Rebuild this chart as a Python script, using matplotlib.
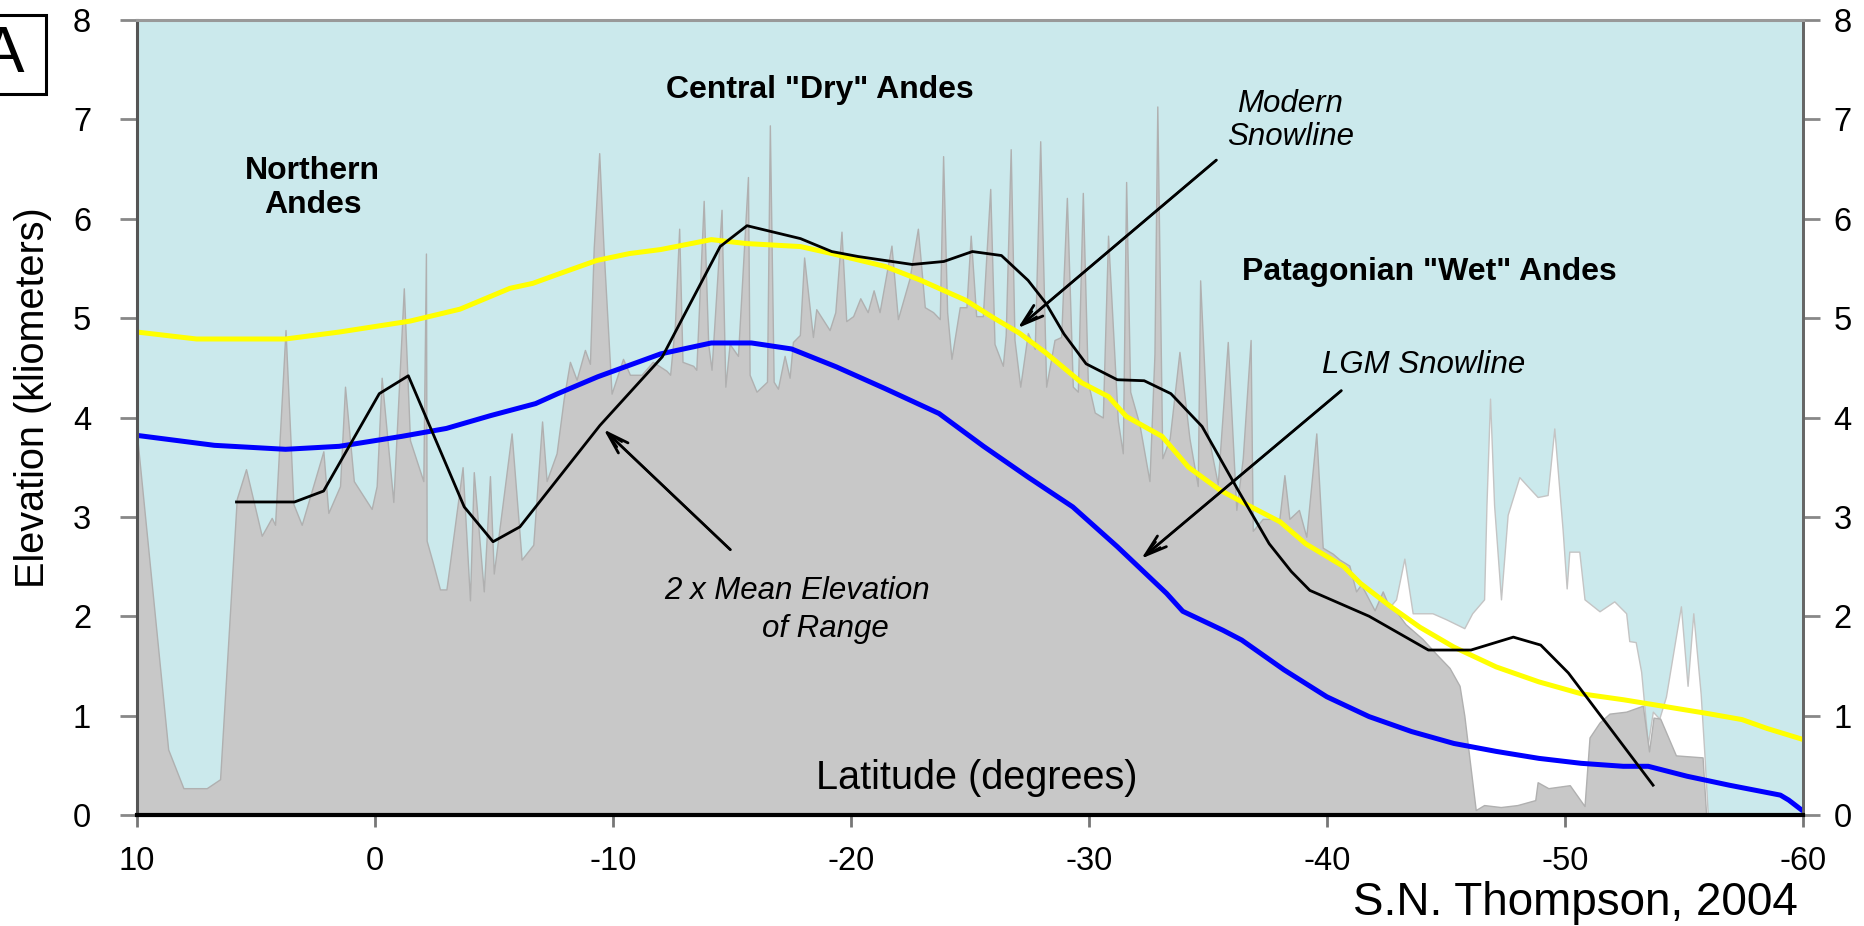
import matplotlib
matplotlib.use('Agg')
import matplotlib.pyplot as plt
from matplotlib.patches import Rectangle

plt.rcParams['font.family'] = ['Liberation Sans', 'DejaVu Sans']
plt.rcParams['axes.unicode_minus'] = False

# ---------------- data ----------------
gray_lat = [10.0, 8.69, 8.05, 7.07, 6.51, 5.81, 5.42, 4.76, 4.34, 4.20, 3.76, 3.43, 3.08,
            2.17, 1.96, 1.47, 1.26, 0.89, 0.14, -0.07, -0.28, -0.77, -1.21, -1.47, -2.03,
            -2.14, -2.17, -2.44, -2.73, -3.00, -3.68, -3.99, -4.15, -4.57, -4.83, -4.99,
            -5.74, -6.16, -6.65, -7.02, -7.21, -7.63, -7.93, -8.19, -8.47, -8.82, -9.03,
            -9.19, -9.42, -9.60, -9.94, -10.42, -10.71, -11.20, -11.67, -12.25, -12.40,
            -12.60, -12.78, -12.92, -13.37, -13.50, -13.81, -14.00, -14.14, -14.56, -14.72,
            -14.90, -15.25, -15.67, -15.74, -16.03, -16.47, -16.59, -16.75, -16.93, -17.21,
            -17.42, -17.56, -17.85, -18.03, -18.40, -18.54, -19.10, -19.34, -19.60, -19.80,
            -20.09, -20.39, -20.70, -20.95, -21.20, -21.70, -21.97, -22.46, -22.81, -23.10,
            -23.45, -23.73, -23.87, -24.04, -24.22, -24.57, -24.85, -25.03, -25.26, -25.54,
            -25.85, -26.03, -26.38, -26.50, -26.71, -26.87, -27.11, -27.43, -27.72, -27.95,
            -28.20, -28.55, -28.83, -29.07, -29.32, -29.53, -29.74, -29.95, -30.24, -30.58,
            -30.80, -31.21, -31.42, -31.56, -31.73, -32.12, -32.54, -32.75, -32.87, -33.08,
            -33.39, -33.80, -34.22, -34.57, -34.67, -34.96, -35.41, -35.83, -36.19, -36.46,
            -36.79, -36.88, -37.30, -38.00, -38.21, -38.42, -38.82, -39.13, -39.55, -39.82,
            -40.24, -40.53, -40.94, -41.22, -41.43, -42.00, -42.34, -42.62, -42.90, -43.30,
            -44.02, -44.59, -45.15, -45.57, -45.77, -45.99, -46.25, -46.60, -47.30, -48.00,
            -48.75, -48.85, -49.30, -50.20, -50.82, -51.03, -51.45, -51.87, -52.57, -53.27,
            -53.53, -53.72, -54.00, -54.66, -55.78, -55.93, -60.00]
gray_elev = [3.82, 0.66, 0.27, 0.27, 0.36, 3.18, 3.48, 2.81, 2.99, 2.92, 4.88, 3.13, 2.92,
             3.66, 3.04, 3.31, 4.31, 3.36, 3.08, 3.31, 4.40, 3.15, 5.30, 3.77, 3.36,
             5.65, 2.76, 2.53, 2.27, 2.27, 3.50, 2.16, 3.45, 2.25, 3.41, 2.43,
             3.84, 2.57, 2.72, 3.96, 3.36, 3.64, 4.19, 4.56, 4.38, 4.68, 4.54,
             5.71, 6.66, 5.71, 4.24, 4.59, 4.43, 4.43, 4.56, 4.47, 4.43,
             4.93, 5.90, 4.56, 4.52, 4.48, 6.18, 4.74, 4.48, 6.09, 4.31,
             4.74, 4.62, 6.42, 4.43, 4.26, 4.36, 6.94, 4.36, 4.29, 4.62,
             4.40, 4.76, 4.83, 5.61, 4.81, 5.09, 4.88, 5.06, 5.87, 4.97,
             5.02, 5.20, 5.06, 5.28, 5.06, 5.73, 4.99, 5.40, 5.90, 5.11,
             5.06, 4.99, 6.63, 5.06, 4.59, 5.11, 5.11, 5.83, 5.02, 5.02,
             6.30, 4.74, 4.52, 4.83, 6.70, 4.78, 4.31, 4.85, 4.69, 6.78,
             4.31, 4.78, 4.81, 6.21, 4.31, 4.26, 6.26, 4.36, 4.05, 4.00,
             5.83, 3.97, 3.64, 6.37, 4.26, 3.93, 3.36, 4.64, 7.13, 3.59,
             3.79, 4.66, 3.79, 3.31, 5.38, 3.88, 3.33, 4.76, 3.07, 3.59,
             4.78, 2.86, 2.98, 2.98, 3.42, 2.98, 3.07, 2.80, 3.84, 2.69,
             2.63, 2.57, 2.51, 2.25, 2.32, 2.06, 2.25, 2.09, 2.05, 1.92,
             1.77, 1.62, 1.48, 1.30, 1.00, 0.56, 0.05, 0.10, 0.08, 0.10,
             0.15, 0.33, 0.27, 0.30, 0.09, 0.78, 0.93, 1.02, 1.04, 1.10,
             0.64, 0.98, 0.97, 0.60, 0.58, 0.0, 0.0]

white_lat = [-42.62, -42.90, -43.25, -43.60, -44.43, -45.00, -45.77, -46.10, -46.60, -46.70,
             -46.85, -47.02, -47.31, -47.59, -48.08, -48.50, -48.85, -49.27, -49.55, -49.90,
             -50.07, -50.18, -50.60, -50.82, -51.45, -52.07, -52.57, -52.70, -52.97, -53.20,
             -53.34, -53.48, -53.69, -53.96, -54.24, -54.87, -55.15, -55.39, -55.70, -55.86,
             -56.00]
white_elev = [2.09, 2.17, 2.58, 2.03, 2.03, 1.97, 1.88, 2.03, 2.17, 3.12,
              4.19, 3.12, 2.17, 3.02, 3.40, 3.29, 3.20, 3.22, 3.89, 2.87,
              2.28, 2.65, 2.65, 2.17, 2.05, 2.15, 2.03, 1.75, 1.74, 1.44,
              1.08, 0.71, 1.04, 0.97, 1.19, 2.10, 1.30, 2.03, 1.22, 0.60,
              0.0]

modern_lat = [10.0, 7.5, 3.76, 1.5, -1.47, -3.57, -5.67, -6.63, -7.9, -9.31, -10.7, -12.0,
              -14.13, -15.63, -17.88, -19.19, -21.44, -22.94, -24.82, -25.94, -27.07, -28.19,
              -29.69, -30.82, -31.57, -33.07, -34.18, -35.5, -36.82, -38.03, -39.1, -40.7,
              -41.41, -42.66, -43.9, -45.33, -47.11, -48.9, -50.68, -52.45, -54.24, -56.02,
              -57.44, -58.5, -60.0]
modern_elev = [4.86, 4.79, 4.79, 4.86, 4.97, 5.09, 5.30, 5.35, 5.46, 5.58, 5.65, 5.69,
               5.79, 5.75, 5.72, 5.65, 5.52, 5.38, 5.18, 5.01, 4.85, 4.65,
               4.35, 4.21, 4.01, 3.81, 3.50, 3.27, 3.10, 2.95, 2.73, 2.50,
               2.33, 2.10, 1.89, 1.69, 1.49, 1.34, 1.22, 1.16, 1.09, 1.02,
               0.96, 0.87, 0.76]

lgm_lat = [10.0, 6.75, 3.76, 1.5, -1.12, -3.0, -4.87, -6.75, -7.68, -9.36, -12.0, -14.13,
           -15.82, -17.5, -19.38, -21.44, -23.7, -25.57, -27.44, -29.32, -31.19, -33.26,
           -33.94, -35.62, -36.42, -38.2, -39.99, -41.77, -43.55, -45.33, -47.11, -48.9,
           -50.68, -52.45, -53.5, -55.13, -56.9, -59.05, -59.4, -60.0]
lgm_elev = [3.82, 3.72, 3.68, 3.71, 3.81, 3.89, 4.02, 4.14, 4.24, 4.41, 4.64, 4.75,
            4.75, 4.69, 4.51, 4.29, 4.04, 3.71, 3.40, 3.10, 2.70, 2.23,
            2.05, 1.86, 1.76, 1.46, 1.19, 0.99, 0.84, 0.72, 0.64, 0.57,
            0.52, 0.49, 0.49, 0.39, 0.30, 0.20, 0.15, 0.04]

mean_lat = [5.82, 3.38, 2.16, -0.18, -1.40, -3.75, -4.96, -6.09, -9.45, -12.07, -14.5,
            -15.63, -17.88, -19.19, -20.3, -22.57, -23.9, -25.1, -26.32, -27.44, -28.19,
            -28.95, -29.88, -31.19, -32.32, -33.44, -34.75, -36.26, -37.57, -38.5, -39.28,
            -41.77, -44.26, -46.05, -47.83, -48.98, -50.14, -53.7]
mean_elev = [3.15, 3.15, 3.26, 4.24, 4.42, 3.10, 2.75, 2.90, 3.92, 4.61, 5.72,
             5.93, 5.80, 5.67, 5.62, 5.54, 5.57, 5.67, 5.63, 5.38, 5.15,
             4.84, 4.54, 4.38, 4.37, 4.24, 3.91, 3.27, 2.73, 2.45, 2.26,
             2.00, 1.66, 1.66, 1.79, 1.71, 1.43, 0.30]

xtick_vals = [10, 0, -10, -20, -30, -40, -50, -60]
xtick_labels = ['10', '0', '-10', '-20', '-30', '-40', '-50', '-60']
ytick_vals = [0, 1, 2, 3, 4, 5, 6, 7, 8]
ytick_labels = ['0', '1', '2', '3', '4', '5', '6', '7', '8']

# ---------------- figure ----------------
W, H = 1865, 926
fig = plt.figure(figsize=(W / 100, H / 100), dpi=100)
fig.patch.set_facecolor('white')
ax = fig.add_axes([137 / W, 1 - 815 / H, (1803 - 137) / W, (815 - 20) / H])
ax.set_facecolor('#CBE9EC')

ax.fill_between(white_lat, 0, white_elev, facecolor='white', edgecolor='#c4c4c4',
                linewidth=1.0, zorder=1)
ax.fill_between(gray_lat, 0, gray_elev, facecolor='#C8C8C8', edgecolor='#b0b0b0',
                linewidth=1.0, zorder=2)

ax.plot(modern_lat, modern_elev, color='#FFFF00', lw=3.6, zorder=4, solid_capstyle='butt')
ax.plot(lgm_lat, lgm_elev, color='#0000FF', lw=3.6, zorder=4, solid_capstyle='butt')
ax.plot(mean_lat, mean_elev, color='black', lw=2.0, zorder=5)

ax.set_xlim(10, -60)
ax.set_ylim(0, 8)
ax.set_xticks(xtick_vals)
ax.set_xticklabels(xtick_labels)
ax.set_yticks(ytick_vals)
ax.set_yticklabels(ytick_labels)

ax.spines['bottom'].set_color('black')
ax.spines['bottom'].set_linewidth(3)
ax.spines['left'].set_color('#555555')
ax.spines['left'].set_linewidth(2.2)
ax.spines['top'].set_color('#999999')
ax.spines['top'].set_linewidth(2.2)
ax.spines['right'].set_color('#666666')
ax.spines['right'].set_linewidth(2.0)
for s in ax.spines.values():
    s.set_zorder(6)

ax.tick_params(axis='x', direction='out', length=8.5, width=2, color='#777777',
               labelsize=23.5, pad=14)
ax.tick_params(axis='y', direction='out', length=12, width=2, color='#888888',
               labelsize=23.5, pad=21)

sec = ax.secondary_yaxis('right')
sec.set_yticks(ytick_vals)
sec.set_yticklabels(ytick_labels)
sec.tick_params(direction='out', length=12, width=2, color='#888888', labelsize=23.5, pad=10)
sec.spines['right'].set_color('#666666')
sec.spines['right'].set_linewidth(2.0)

# axis labels
fig.text(33 / W, 1 - 398 / H, 'Elevation (kliometers)', rotation=90, ha='center',
         va='center', fontsize=28.5)
ax.text(0.504, 0.033, 'Latitude (degrees)', transform=ax.transAxes, ha='center',
        va='baseline', fontsize=28.5, zorder=7)

# region labels
ax.text(2.62, 6.31, 'Northern\nAndes', ha='center', va='center', fontsize=23,
        fontweight='bold', linespacing=1.15, zorder=7)
ax.text(-18.71, 7.30, 'Central "Dry" Andes', ha='center', va='center', fontsize=23,
        fontweight='bold', zorder=7)
ax.text(-44.29, 5.46, 'Patagonian "Wet" Andes', ha='center', va='center', fontsize=23,
        fontweight='bold', zorder=7)

# annotations
ax.text(-38.45, 6.99, 'Modern\nSnowline', ha='center', va='center', fontsize=22.5,
        fontstyle='italic', linespacing=1.15, zorder=7)
ax.text(-44.04, 4.53, 'LGM Snowline', ha='center', va='center', fontsize=22.5,
        fontstyle='italic', zorder=7)
ax.text(-17.74, 2.25, '2 x Mean Elevation', ha='center', va='center', fontsize=22.5,
        fontstyle='italic', zorder=7)
ax.text(-18.94, 1.87, 'of Range', ha='center', va='center', fontsize=22.5,
        fontstyle='italic', zorder=7)

arrows = [((-27.01, 4.90), (-35.35, 6.59)),
          ((-32.2, 2.58), (-40.6, 4.27)),
          ((-9.61, 3.88), (-14.93, 2.67))]
for tip, tail in arrows:
    ax.annotate('', xy=tip, xytext=tail, zorder=8,
                arrowprops=dict(arrowstyle='->,head_length=1.6,head_width=0.5',
                                color='black', lw=2.0, shrinkA=0, shrinkB=0))
    ax.annotate('', xy=tip, xytext=tail, zorder=8,
                arrowprops=dict(arrowstyle='->,head_length=1.2,head_width=0.25',
                                color='black', lw=1.5, shrinkA=0, shrinkB=0))

# panel label box
fig.add_artist(Rectangle((-40 / W, 1 - 94 / H), 86 / W, 79 / H, transform=fig.transFigure,
                         fill=False, edgecolor='black', linewidth=2.2))
fig.text(3 / W, 1 - 55 / H, 'A', ha='center', va='center', fontsize=47)

# credit
fig.text(1798 / W, 1 - 915 / H, 'S.N. Thompson, 2004', ha='right', va='baseline',
         fontsize=33)

fig.savefig('out.png', dpi=100)
